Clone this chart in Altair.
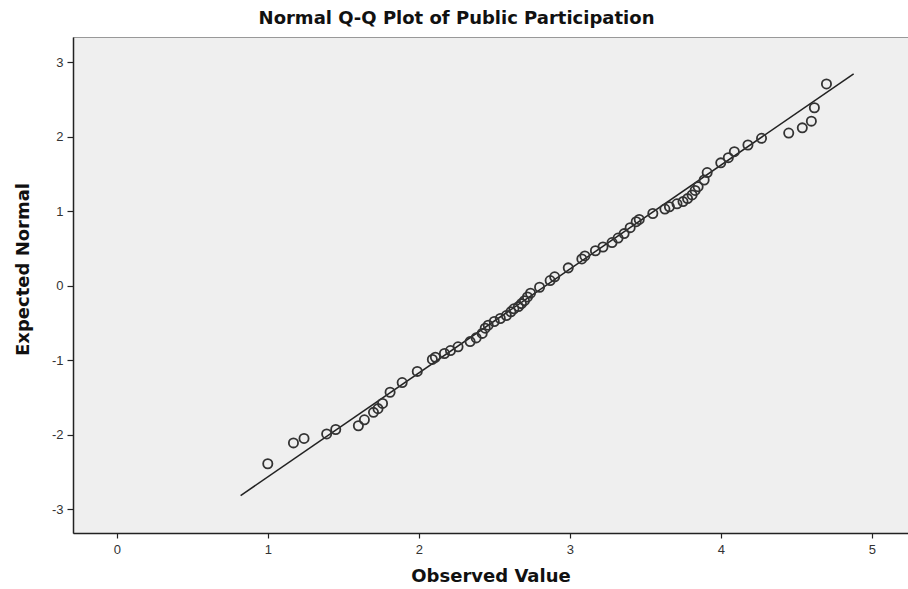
import altair as alt
import pandas as pd

# Observed values (sorted) and their expected normal scores
observed = [
    1.00, 1.17, 1.24, 1.39, 1.45, 1.60, 1.64, 1.70, 1.73, 1.76,
    1.81, 1.89, 1.99, 2.09, 2.11, 2.17, 2.21, 2.26, 2.34, 2.38,
    2.42, 2.44, 2.46, 2.50, 2.54, 2.58, 2.61, 2.63, 2.66, 2.68,
    2.70, 2.72, 2.74, 2.80, 2.87, 2.90, 2.99, 3.08, 3.10, 3.17,
    3.22, 3.28, 3.32, 3.36, 3.40, 3.44, 3.46, 3.55, 3.63, 3.66,
    3.71, 3.75, 3.78, 3.81, 3.83, 3.85, 3.89, 3.91, 4.00, 4.05,
    4.09, 4.18, 4.27, 4.45, 4.54, 4.60, 4.62, 4.70,
]
expected = [
    -2.39, -2.11, -2.05, -1.99, -1.93, -1.88, -1.80, -1.70, -1.65, -1.58,
    -1.43, -1.30, -1.15, -0.99, -0.96, -0.91, -0.87, -0.82, -0.75, -0.70,
    -0.64, -0.57, -0.53, -0.48, -0.44, -0.40, -0.35, -0.31, -0.28, -0.24,
    -0.20, -0.15, -0.10, -0.02, 0.07, 0.12, 0.24, 0.36, 0.40, 0.47,
    0.52, 0.58, 0.64, 0.70, 0.78, 0.86, 0.89, 0.97, 1.03, 1.06,
    1.10, 1.13, 1.17, 1.22, 1.28, 1.33, 1.42, 1.52, 1.65, 1.72,
    1.80, 1.89, 1.98, 2.05, 2.12, 2.21, 2.39, 2.71,
]

# Reference line: expected = (observed - mean) / sd
mean_value = 2.84
sd_value = 0.717
line_x = [0.82, 4.88]
line_y = [(v - mean_value) / sd_value for v in line_x]

x_ticks = [0, 1, 2, 3, 4, 5]
y_ticks = [-3, -2, -1, 0, 1, 2, 3]

points = pd.DataFrame({"observed": observed, "expected": expected})
ref = pd.DataFrame({"observed": line_x, "expected": line_y})

LABEL_FONT = "Liberation Sans"
TITLE_FONT = "DejaVu Sans"

x_scale = alt.Scale(domain=[-0.29, 5.24], nice=False, zero=False)
y_scale = alt.Scale(domain=[-3.32, 3.34], nice=False, zero=False)

# plain hyphen minus signs on tick labels
plain_label = "'' + datum.value"

x_axis = alt.Axis(
    title="Observed Value", values=x_ticks, grid=False, labelExpr=plain_label,
    domainColor="#222", domainWidth=1.5, tickColor="#222", tickSize=5, tickWidth=1.2,
    labelFont=LABEL_FONT, labelFontSize=13, labelColor="#333", labelPadding=5,
    titleFont=TITLE_FONT, titleFontSize=18, titleFontWeight="bold", titleColor="#111",
    titlePadding=11,
)
y_axis = alt.Axis(
    title="Expected Normal", values=y_ticks, grid=False, labelExpr=plain_label,
    domainColor="#222", domainWidth=1.5, tickColor="#222", tickSize=6, tickWidth=1.2,
    labelFont=LABEL_FONT, labelFontSize=13, labelColor="#333", labelPadding=4,
    titleFont=TITLE_FONT, titleFontSize=18, titleFontWeight="bold", titleColor="#111",
    titlePadding=19, titleY=232,
)

line = alt.Chart(ref).mark_line(color="#222", strokeWidth=1.5).encode(
    x=alt.X("observed:Q", scale=x_scale, axis=x_axis),
    y=alt.Y("expected:Q", scale=y_scale, axis=y_axis),
)

dots = alt.Chart(points).mark_point(
    shape="circle", filled=False, size=85, stroke="#333", strokeWidth=1.8, opacity=1
).encode(
    x=alt.X("observed:Q", scale=x_scale),
    y=alt.Y("expected:Q", scale=y_scale),
)

chart = (
    alt.layer(line, dots)
    .properties(
        width=835,
        height=496,
        title=alt.TitleParams(
            "Normal Q-Q Plot of Public Participation",
            font=TITLE_FONT, fontSize=18, fontWeight="bold", color="#111",
            anchor="middle", offset=9, dx=-34,
        ),
        autosize=alt.AutoSizeParams(type="none"),
        padding={"left": 73, "top": 37, "right": 0, "bottom": 56},
        background="white",
    )
    .configure_view(fill="#efefef", stroke="#999", strokeWidth=1)
)

chart.save("out.html", embed_options={"renderer": "svg", "actions": False})
